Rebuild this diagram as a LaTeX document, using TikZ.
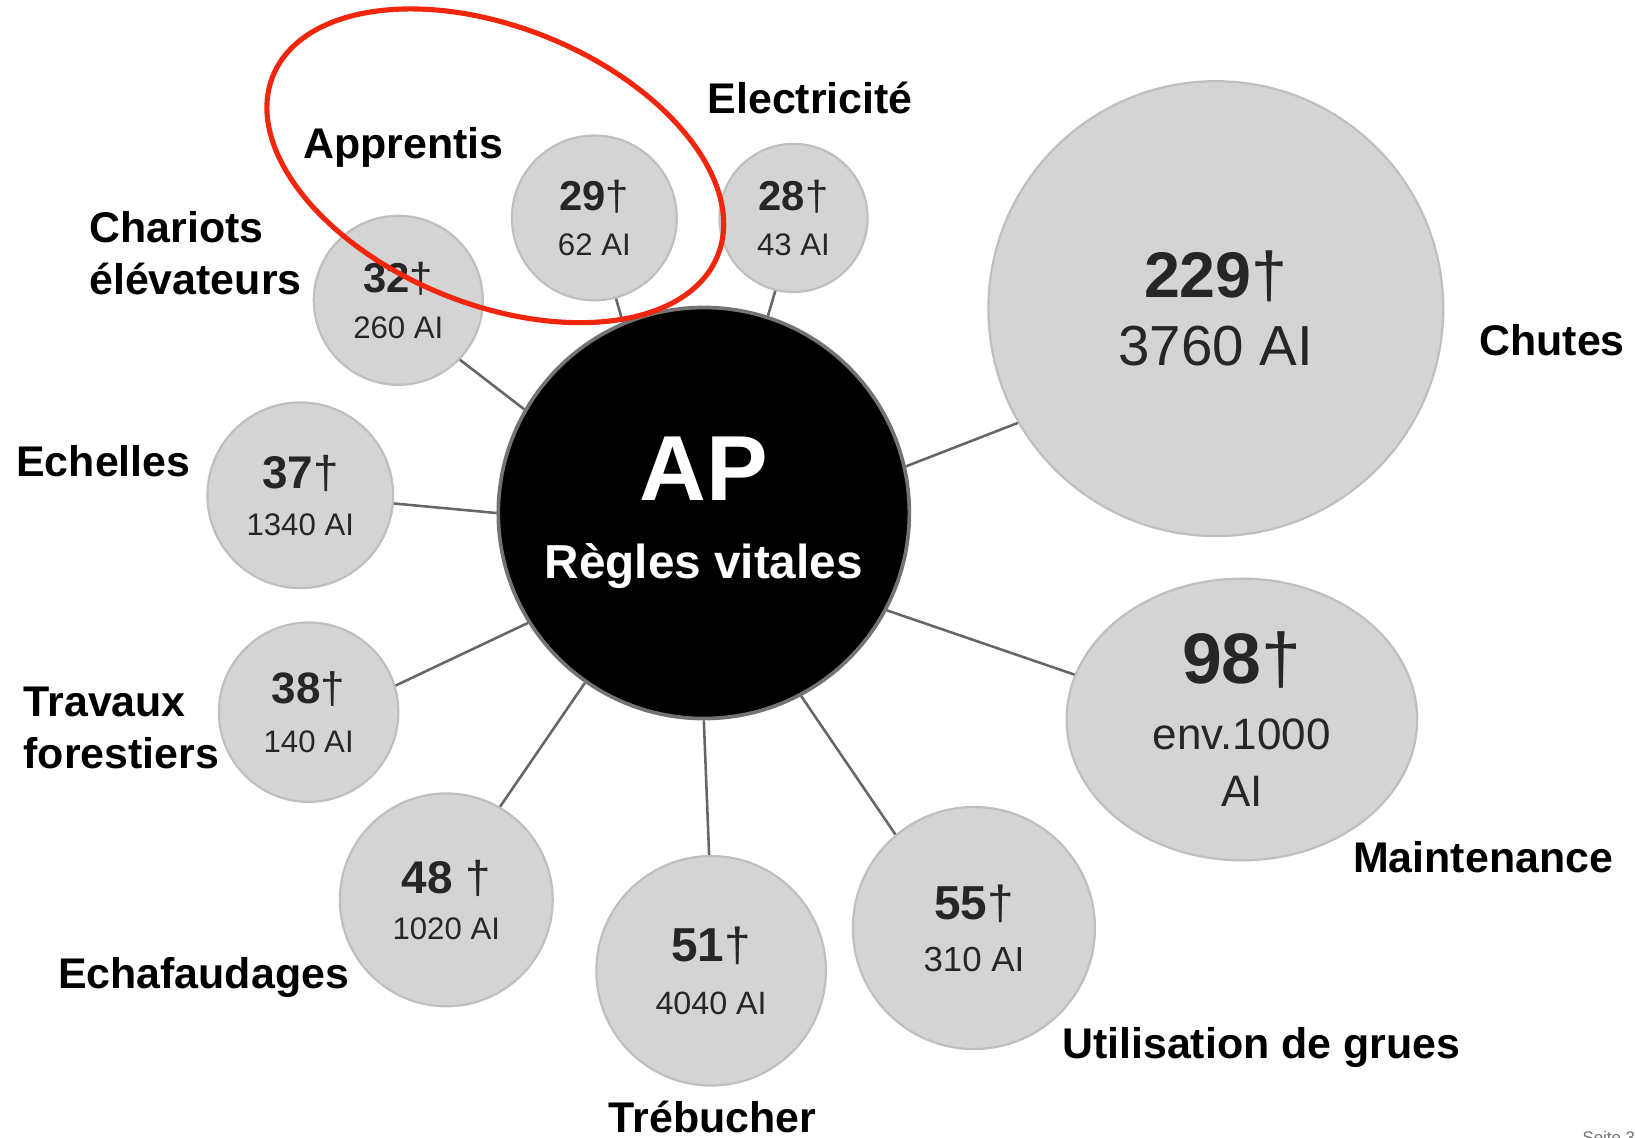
\documentclass[tikz,border=0pt]{standalone}
\usepackage
{
  fontspec,
  tikz,
}
\usetikzlibrary{shapes.geometric}
\setmainfont{Liberation Sans}
\definecolor{markred}{RGB}{242,38,12}

\begin{document}
\begin{tikzpicture}[x=0.01cm, y=-0.01cm,
  bubble/.style={circle, fill=black!17, draw=black!25, line width=0.6pt, inner sep=0pt, align=center, text=black!85},
  hub/.style={circle, fill=black, draw=black!55, line width=1pt, inner sep=0pt, align=center, text=white},
  topic/.style={inner sep=0pt, align=left, font=\bfseries\fontsize{11.7}{14.3}\selectfont},
  link/.style={draw=black!60, line width=0.7pt}]
\useasboundingbox (0,0) rectangle (1568,1091);
\node[hub, minimum size=3.94cm, font=\bfseries\fontsize{13}{21.2}\selectfont] (ap) at (675,492) {{\fontsize{25.2}{25.2}\selectfont AP}\\Règles vitales};
\node[bubble, minimum size=1.58cm, font=\fontsize{8.5}{12.4}\selectfont] (c29) at (570,209) {{\fontsize{11.4}{11.4}\selectfont\textbf{29}†}\\62 AI};
\node[bubble, minimum size=1.42cm, font=\fontsize{8.5}{12.4}\selectfont] (c28) at (761,209) {{\fontsize{11.4}{11.4}\selectfont\textbf{28}†}\\43 AI};
\node[bubble, minimum size=1.62cm, font=\fontsize{8.5}{12.4}\selectfont] (c32) at (382,288) {{\fontsize{11.4}{11.4}\selectfont\textbf{32}†}\\260 AI};
\node[bubble, minimum size=1.78cm, font=\fontsize{8.5}{12.8}\selectfont] (c37) at (288,475) {{\fontsize{12.5}{12.5}\selectfont\textbf{37}†}\\1340 AI};
\node[bubble, minimum size=1.72cm, font=\fontsize{8.5}{13.3}\selectfont] (c38) at (296,683) {{\fontsize{12}{12}\selectfont\textbf{38}†}\\140 AI};
\node[bubble, minimum size=2.04cm, font=\fontsize{8.5}{12.4}\selectfont] (c48) at (428,863) {{\fontsize{12.5}{12.5}\selectfont\textbf{48} †}\\1020 AI};
\node[bubble, minimum size=2.20cm, font=\fontsize{8.8}{14.6}\selectfont] (c51) at (682,931) {{\fontsize{13}{13}\selectfont\textbf{51}†}\\4040 AI};
\node[bubble, minimum size=2.32cm, font=\fontsize{9.5}{14.2}\selectfont] (c55) at (934,890) {{\fontsize{13}{13}\selectfont\textbf{55}†}\\310 AI};
\node[bubble, ellipse, minimum width=3.36cm, minimum height=2.70cm, font=\fontsize{12}{15.6}\selectfont] (c98) at (1191,690) {{\fontsize{19.5}{19.5}\selectfont\textbf{98}†}\\[2.4pt]env.1000\\AI};
\node[bubble, minimum size=4.36cm, font=\fontsize{15.4}{18.6}\selectfont] (c229) at (1166,296) {{\fontsize{17.6}{17.6}\selectfont\textbf{229}†}\\3760 AI};
\draw[link] (ap.113) -- (c29.-75);
\draw[link] (ap.72) -- (c28.-104);
\draw[link] (ap.150) -- (c32.-44);
\draw[link] (ap.180) -- (c37.-5);
\draw[link] (ap.212) -- (c38.17);
\draw[link] (ap.235) -- (c48.60);
\draw[link] (ap.270) -- (c51.91);
\draw[link] (ap.-62) -- (c55.130);
\draw[link] (ap.-28) -- (c98.165);
\draw[link] (ap.13) -- (c229.210);
\node[topic, anchor=base west] (apprentis) at (290,152) {Apprentis};
\node[topic, anchor=base west] (electricite) at (678,109) {Electricité};
\node[topic, anchor=north west] (chariots) at (85,202) {Chariots\\élévateurs};
\node[topic, anchor=base west] (echelles) at (15,457) {Echelles};
\node[topic, anchor=north west] (travaux) at (22,658) {Travaux\\forestiers};
\node[topic, anchor=base west] (echafaudages) at (55,948) {Echafaudages};
\node[topic, anchor=base west] (trebucher) at (583,1086) {Trébucher};
\node[topic, anchor=base west] (grues) at (1018,1015) {Utilisation de grues};
\node[topic, anchor=base west] (maintenance) at (1297,837) {Maintenance};
\node[topic, anchor=base west] (chutes) at (1418,341) {Chutes};
\node[anchor=north west, inner sep=0pt, font=\fontsize{4.6}{5}\selectfont, text=black!55] (page) at (1517,1084) {Seite 3};
\draw[markred, line width=1.4pt, rotate around={-22:(475,159)}] (475,159) ellipse [x radius=230, y radius=133];
\end{tikzpicture}
\end{document}
